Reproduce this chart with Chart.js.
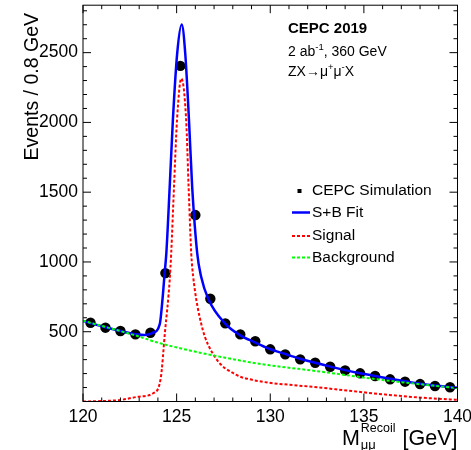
<!DOCTYPE html>
<html lang="en">
<head>
<meta charset="UTF-8">
<title>CEPC 2019 recoil mass</title>
<script src="https://cdn.jsdelivr.net/npm/chart.js@4"></script>
<style>
  * { margin: 0; padding: 0; }
  body { background: #fff; }
  canvas { display: block; }
</style>
</head>
<body>
<canvas id="recoil" width="471" height="450"></canvas>
<script>
const FONT = "'Liberation Sans', Arial, Helvetica, sans-serif";

// Simulated events per 0.8 GeV bin (bin centres)
const binCenters = [120.4, 121.2, 122.0, 122.8, 123.6, 124.4, 125.2, 126.0, 126.8, 127.6,
  128.4, 129.2, 130.0, 130.8, 131.6, 132.4, 133.2, 134.0, 134.8, 135.6,
  136.4, 137.2, 138.0, 138.8, 139.6];
const simEvents = [564, 529, 505, 481, 493, 920, 2405, 1336, 736, 560,
  481, 432, 374, 338, 302, 278, 249, 223, 202, 183,
  159, 142, 125, 111, 102];

// S+B fit curve
const fitMass = [120.0, 120.4, 121.2, 122.0, 122.8, 123.3, 123.7, 124.1, 124.25, 124.36,
  124.45, 124.63, 124.8, 125.03, 125.27, 125.46, 125.66, 125.83, 126.1, 126.31,
  126.68, 127.58, 128.38, 129.18, 129.89, 130.8, 131.6, 132.4, 133.2, 134.0,
  134.8, 135.6, 136.4, 137.2, 138.0, 138.8, 139.6, 140.0];
const fitEvents = [578, 562, 532, 505, 482, 476, 490, 555, 739, 920,
  1062, 1539, 2016, 2494, 2702, 2494, 2016, 1539, 1062, 894,
  739, 560, 476, 424, 381, 340, 306, 278, 250, 225,
  203, 183, 163, 145, 128, 114, 103, 99];

// Signal component
const sigMass = [120.0, 121.0, 122.0, 122.95, 123.75, 124.15, 124.38, 124.63, 124.71, 124.86,
  125.02, 125.25, 125.51, 125.64, 125.78, 125.88, 126.33, 127.04, 128.2, 128.91,
  129.9, 131.0, 132.5, 134.2, 136.0, 137.8, 139.6, 140.0];
const sigEvents = [0, 3, 11, 34, 59, 166, 500, 870, 1062, 1539,
  2016, 2315, 2016, 1539, 1062, 900, 548, 321, 190, 159,
  135, 120, 102, 77, 52, 30, 15, 12];

// Background component
const bkgMass = [120.0, 123.04, 124.02, 128.91, 129.89, 132.47, 136.02, 140.0];
const bkgEvents = [579, 464, 421, 281, 261, 218, 154, 95];

const xTickLabels = [120, 125, 130, 135, 140];
const yTickLabels = [500, 1000, 1500, 2000, 2500];

const toXY = (xs, ys) => xs.map((x, i) => ({ x, y: ys[i] }));

const curve = (label, xs, ys, color, dash, width) => ({
  label, data: toXY(xs, ys), borderColor: color, backgroundColor: color,
  borderWidth: width, borderDash: dash, pointRadius: 0, fill: false,
  cubicInterpolationMode: 'monotone', showLine: true
});

function line(ctx, x1, y1, x2, y2) {
  ctx.beginPath(); ctx.moveTo(x1, y1); ctx.lineTo(x2, y2); ctx.stroke();
}

// draws runs of [text, sizePx, dy, bold] left to right, returns end x
function runs(ctx, x, y, parts) {
  for (const [t, size, dy, bold] of parts) {
    ctx.font = `${bold ? 'bold ' : ''}${size}px ${FONT}`;
    ctx.fillText(t, x, y + dy);
    x += ctx.measureText(t).width;
  }
  return x;
}

const rootDecor = {
  id: 'rootDecor',
  afterDraw(chart) {
    const { ctx, chartArea: a, scales: { x, y } } = chart;
    ctx.save();
    ctx.strokeStyle = '#000';
    ctx.lineWidth = 1;
    ctx.setLineDash([]);
    ctx.strokeRect(a.left, a.top, a.right - a.left, a.bottom - a.top);

    // inward ticks on all four sides
    for (let v = x.min; v <= x.max + 1e-6; v += 1) {
      const px = x.getPixelForValue(v);
      const len = Math.abs(v % 5) < 1e-6 ? 8 : 4;
      line(ctx, px, a.bottom, px, a.bottom - len);
      line(ctx, px, a.top, px, a.top + len);
    }
    for (let v = 100; v <= y.max; v += 100) {
      const py = y.getPixelForValue(v);
      const len = v % 500 === 0 ? 8 : 4;
      line(ctx, a.left, py, a.left + len, py);
      line(ctx, a.right, py, a.right - len, py);
    }

    ctx.fillStyle = '#000';
    ctx.textBaseline = 'alphabetic';

    // y title, rotated and flush with the top
    ctx.save();
    ctx.translate(38, 13);
    ctx.rotate(-Math.PI / 2);
    ctx.textAlign = 'right';
    ctx.font = `19.5px ${FONT}`;
    ctx.fillText('Events / 0.8 GeV', 0, 0);
    ctx.restore();

    // x title: M_{μμ}^{Recoil} [GeV], right aligned
    ctx.textAlign = 'left';
    ctx.font = `21.5px ${FONT}`;
    const wM = ctx.measureText('M').width;
    const wGeV = ctx.measureText(' [GeV]').width;
    ctx.font = `12.5px ${FONT}`;
    const wSup = ctx.measureText('Recoil').width;
    ctx.font = `13px ${FONT}`;
    const wSub = ctx.measureText('μμ').width;
    const xEnd = a.right;
    const xM = xEnd - wGeV - Math.max(wSup, wSub) - wM - 2;
    ctx.font = `21.5px ${FONT}`;
    ctx.fillText('M', xM, 445);
    ctx.font = `12.5px ${FONT}`;
    ctx.fillText('Recoil', xM + wM + 1, 431.5);
    ctx.font = `13px ${FONT}`;
    ctx.fillText('μμ', xM + wM + 1, 448.5);
    ctx.font = `21.5px ${FONT}`;
    ctx.textAlign = 'right';
    ctx.fillText(' [GeV]', xEnd, 445);

    // header text
    ctx.textAlign = 'left';
    ctx.textBaseline = 'middle';
    runs(ctx, 288, 28.5, [['CEPC 2019', 15, 0, true]]);
    runs(ctx, 288, 52, [['2 ab', 14, 0], ['-1', 9.5, -5], [', 360 GeV', 14, 0]]);
    runs(ctx, 288, 72, [['ZX→μ', 14, 0], ['+', 9.5, -5], ['μ', 14, 0], ['-', 9.5, -5], ['X', 14, 0]]);

    // legend
    const ds = chart.data.datasets;
    const byLabel = l => ds.find(d => d.label === l);
    const entries = ['CEPC Simulation', 'S+B Fit', 'Signal', 'Background'];
    const rows = [191, 212.5, 236, 257.5];
    ctx.font = `15.5px ${FONT}`;
    entries.forEach((name, i) => {
      const d = byLabel(name);
      const yy = rows[i];
      if (name === 'CEPC Simulation') {
        ctx.fillStyle = d.backgroundColor;
        ctx.fillRect(297.5, yy - 2, 4, 4);
      } else {
        ctx.strokeStyle = d.borderColor;
        ctx.lineWidth = d.borderWidth;
        ctx.setLineDash(d.borderDash || []);
        line(ctx, 292, yy, 310, yy);
        ctx.setLineDash([]);
      }
      ctx.fillStyle = '#000';
      ctx.fillText(name, 312, yy);
    });
    ctx.restore();
  }
};

new Chart(document.getElementById('recoil'), {
  type: 'line',
  data: {
    datasets: [
      curve('Background', bkgMass, bkgEvents, '#00ff00', [3, 2], 2),
      curve('Signal', sigMass, sigEvents, '#ff0000', [3, 2], 2),
      curve('S+B Fit', fitMass, fitEvents, '#0000ff', [], 2.5),
      {
        label: 'CEPC Simulation', data: toXY(binCenters, simEvents), showLine: false,
        pointRadius: 5.2, pointBackgroundColor: '#000', pointBorderColor: '#000',
        backgroundColor: '#000', borderColor: '#000', pointBorderWidth: 0
      }
    ]
  },
  options: {
    responsive: false,
    animation: false,
    devicePixelRatio: 1,
    layout: { padding: { top: 5, right: 13.5, left: 0, bottom: 0 } },
    plugins: { legend: { display: false }, tooltip: { enabled: false } },
    scales: {
      x: {
        type: 'linear', min: 120, max: 140,
        grid: { display: false, drawTicks: false }, border: { display: false },
        afterBuildTicks: s => { s.ticks = xTickLabels.map(v => ({ value: v })); },
        afterFit: s => { s.height = 48.5; s.paddingLeft = 0; s.paddingRight = 0; },
        ticks: { color: '#000', padding: 5, maxRotation: 0, callback: v => String(v),
          font: { family: FONT, size: 17.5 } }
      },
      y: {
        type: 'linear', min: 0, max: 2840,
        grid: { display: false, drawTicks: false }, border: { display: false },
        afterBuildTicks: s => { s.ticks = yTickLabels.map(v => ({ value: v })); },
        afterFit: s => { s.width = 83; s.paddingTop = 0; s.paddingBottom = 0; },
        ticks: { color: '#000', padding: 5, callback: v => String(v),
          font: { family: FONT, size: 17.5 } }
      }
    }
  },
  plugins: [rootDecor]
});
</script>
</body>
</html>
